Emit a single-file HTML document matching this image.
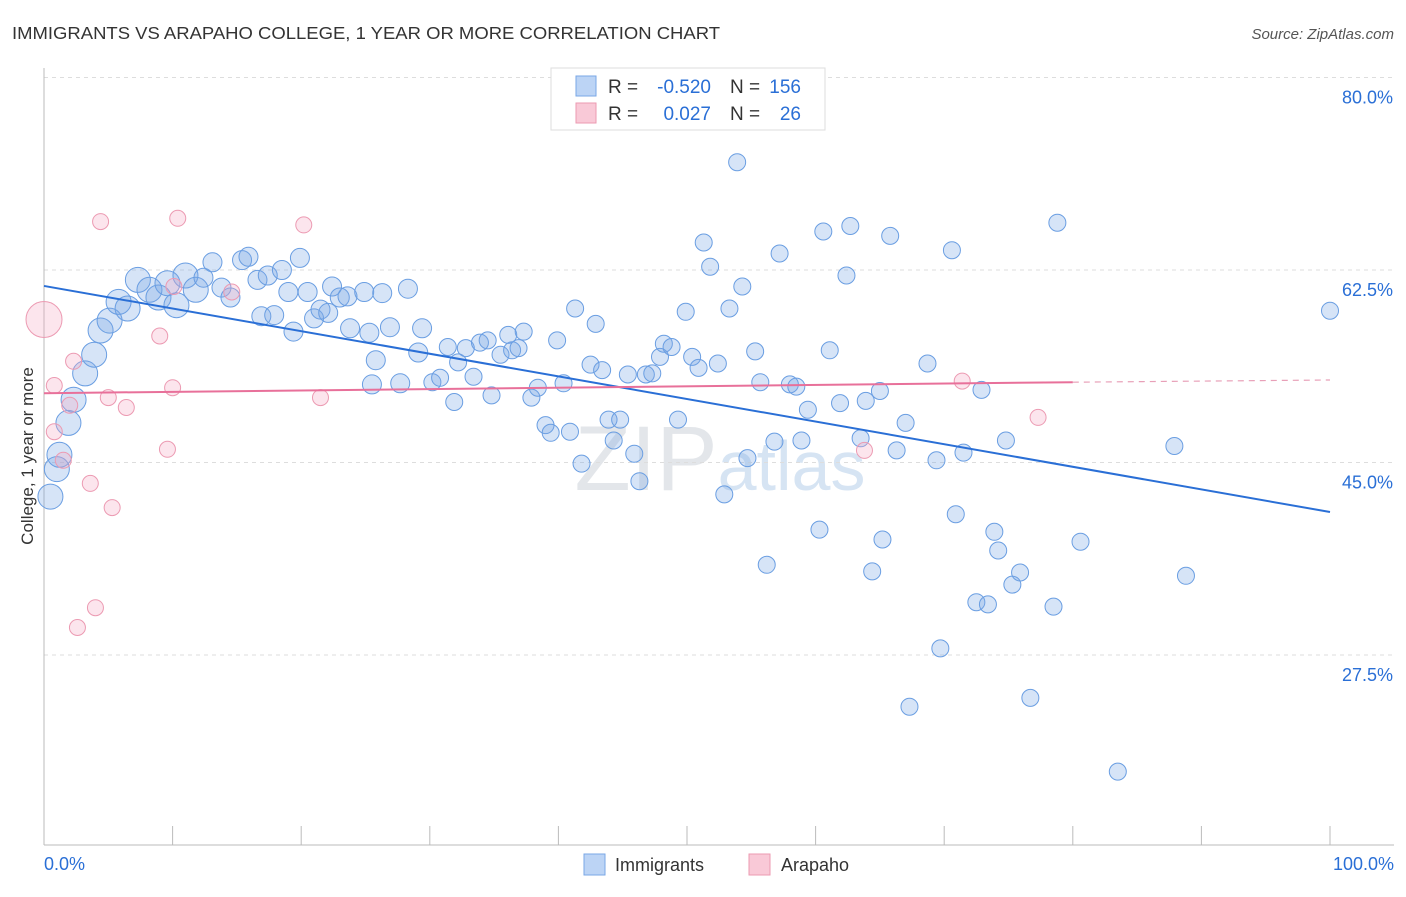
<!DOCTYPE html>
<html><head><meta charset="utf-8"><style>
body{margin:0;background:#fff;font-family:"Liberation Sans",sans-serif}
svg text{font-family:"Liberation Sans",sans-serif}
</style></head><body>
<svg id="c" width="1406" height="892" xmlns="http://www.w3.org/2000/svg">
<text x="12" y="39" font-size="17.5" fill="#333" textLength="708" lengthAdjust="spacingAndGlyphs">IMMIGRANTS VS ARAPAHO COLLEGE, 1 YEAR OR MORE CORRELATION CHART</text>
<text x="1394" y="39" font-size="15" fill="#555" text-anchor="end" font-style="italic">Source: ZipAtlas.com</text>
<text x="720" y="490" font-size="92" fill="#e3e6ea" text-anchor="middle" font-family="Liberation Serif"><tspan>ZIP</tspan><tspan fill="#d6e4f3" font-family="Liberation Sans" font-size="70">atlas</tspan></text>
<g id="grid"></g><g id="axes"></g><g id="pts"></g><g id="trend"></g>
<text transform="translate(33,456) rotate(-90)" font-size="17" fill="#333" text-anchor="middle">College, 1 year or more</text>
<g font-size="19" fill="#333">
<rect x="551" y="68" width="274" height="62" fill="#fff" stroke="#ddd"/>
<rect x="576" y="76" width="20" height="20" fill="#bcd4f5" stroke="#7aa7e6"/>
<rect x="576" y="103" width="20" height="20" fill="#f9c9d7" stroke="#ec9ab2"/>
<text x="608" y="93">R =</text><text x="711" y="93" text-anchor="end" fill="#2a6fd6">-0.520</text>
<text x="730" y="93">N =</text><text x="801" y="93" text-anchor="end" fill="#2a6fd6">156</text>
<text x="608" y="120">R =</text><text x="711" y="120" text-anchor="end" fill="#2a6fd6">0.027</text>
<text x="730" y="120">N =</text><text x="801" y="120" text-anchor="end" fill="#2a6fd6">26</text>
</g>
<g>
<rect x="584" y="854" width="21" height="21" fill="#bcd4f5" stroke="#7aa7e6"/>
<text x="615" y="871" font-size="18" fill="#333">Immigrants</text>
<rect x="749" y="854" width="21" height="21" fill="#f9c9d7" stroke="#ec9ab2"/>
<text x="781" y="871" font-size="18" fill="#333">Arapaho</text>
</g>
</svg>
<script>
const yTicks=[80,62.5,45,27.5];
const yTickLabels=["80.0%","62.5%","45.0%","27.5%"];
const xTickLabels=["0.0%","100.0%"];
const blueX=[0.5,1.0,1.2,1.9,2.3,3.2,3.9,4.4,5.1,5.8,6.5,7.3,8.2,8.9,9.6,10.3,11.0,11.8,12.4,13.1,13.8,14.5,15.4,15.9,16.6,17.4,18.5,16.9,17.9,19.4,19.9,19.0,20.5,21.0,21.5,22.1,22.4,23.0,23.6,24.9,26.3,23.8,25.3,25.8,26.9,28.3,25.5,27.7,29.1,29.4,30.2,30.8,31.4,31.9,32.2,32.8,33.4,33.9,34.5,34.8,35.5,36.1,36.4,36.9,37.3,37.9,38.4,39.0,39.4,39.9,40.4,40.9,41.3,41.8,42.5,42.9,43.4,43.9,44.3,44.8,45.4,45.9,46.3,46.8,47.3,47.9,48.2,48.8,49.3,49.9,50.4,50.9,51.3,51.8,52.4,52.9,53.3,53.9,54.3,54.7,55.3,55.7,56.2,56.8,57.2,58.0,58.5,58.9,59.4,60.3,60.6,61.1,61.9,62.4,62.7,63.5,63.9,64.4,65.0,65.2,65.8,66.3,67.0,67.3,68.7,69.4,69.7,70.6,70.9,71.5,72.5,72.9,73.4,73.9,74.2,74.8,75.3,75.9,76.7,78.5,78.8,80.6,83.5,87.9,88.8,100];
const blueY=[41.9,44.4,45.7,48.6,50.7,53.1,54.8,57.0,57.9,59.6,59.0,61.6,60.7,60.0,61.3,59.3,62.0,60.7,61.8,63.2,60.9,60.0,63.4,63.7,61.6,62.0,62.5,58.3,58.4,56.9,63.6,60.5,60.5,58.1,58.9,58.6,61.0,60.0,60.1,60.5,60.4,57.2,56.8,54.3,57.3,60.8,52.1,52.2,55.0,57.2,52.3,52.7,55.5,50.5,54.1,55.4,52.8,55.9,56.1,51.1,54.8,56.6,55.2,55.4,56.9,50.9,51.8,48.4,47.7,56.1,52.2,47.8,59.0,44.9,53.9,57.6,53.4,48.9,47.0,48.9,53.0,45.8,43.3,53.0,53.1,54.6,55.8,55.5,48.9,58.7,54.6,53.6,65.0,62.8,54.0,42.1,59.0,72.3,61.0,45.4,55.1,52.3,35.7,46.9,64.0,52.1,51.9,47.0,49.8,38.9,66.0,55.2,50.4,62.0,66.5,47.2,50.6,35.1,51.5,38.0,65.6,46.1,48.6,22.8,54.0,45.2,28.1,64.3,40.3,45.9,32.3,51.6,32.1,38.7,37.0,47.0,33.9,35.0,23.6,31.9,66.8,37.8,16.9,46.5,34.7,58.8];
const pinkX=[0,0.8,0.8,1.5,2.0,2.3,3.6,4.4,5.0,5.3,4.0,2.6,6.4,9.0,9.6,10.0,10.4,10.1,14.6,20.2,21.5,63.8,71.4,77.3];
const pinkY=[58.0,52.0,47.8,45.2,50.2,54.2,43.1,66.9,50.9,40.9,31.8,30.0,50.0,56.5,46.2,51.8,67.2,61.0,60.5,66.6,50.9,46.1,52.4,49.1];
const blueTrend=[61.05,40.5];
const pinkTrend=[51.3,52.3,52.5];
const NS="http://www.w3.org/2000/svg";
const X=v=>44+v*12.86, Y=v=>77.5+(80-v)*11;
function mk(t,a,p){const e=document.createElementNS(NS,t);for(const k in a)e.setAttribute(k,a[k]);document.getElementById(p).appendChild(e);return e;}
yTicks.forEach((t,i)=>{
 const l=mk('line',{x1:44,x2:1394,y1:Y(t),y2:Y(t),stroke:'#ddd','stroke-dasharray':'4,4'},'grid');
 
 
 const tx=mk('text',{x:1393,y:Y(t)+26,'font-size':18,fill:'#2a6fd6','text-anchor':'end'},'axes');
 
 
 tx.textContent=yTickLabels[i];
});
mk('line',{x1:44,x2:44,y1:68,y2:845,stroke:'#bbb'},'axes');
mk('line',{x1:44,x2:1394,y1:845,y2:845,stroke:'#bbb'},'axes');
for(let i=0;i<=10;i++){mk('line',{x1:X(i*10),x2:X(i*10),y1:826,y2:845,stroke:'#bbb'},'axes');}
[[0,'start',44],[1,'end',1394]].forEach(([i,a,x])=>{
 const t=mk('text',{x:x,y:870,'font-size':18,fill:'#2a6fd6','text-anchor':a},'axes');
 
 
 t.textContent=xTickLabels[i];
});
blueX.forEach((x,i)=>{
 const c=mk('circle',{cx:X(x),cy:Y(blueY[i]),r:x<12?12.5:(x<30?9.5:8.5),fill:'rgba(120,165,230,0.3)',stroke:'#6a9ee2','stroke-width':1},'pts');
 
 
});
pinkX.forEach((x,i)=>{
 const c=mk('circle',{cx:X(x),cy:Y(pinkY[i]),r:i==0?18:8,fill:'rgba(245,170,195,0.3)',stroke:'#ec9ab2','stroke-width':1},'pts');
 
 
});
let l=mk('line',{x1:X(0),y1:Y(blueTrend[0]),x2:X(100),y2:Y(blueTrend[1]),stroke:'#2a6fd6','stroke-width':2},'trend');


l=mk('line',{x1:X(0),y1:Y(pinkTrend[0]),x2:X(80),y2:Y(pinkTrend[1]),stroke:'#e8709a','stroke-width':2},'trend');


l=mk('line',{x1:X(80),y1:Y(pinkTrend[1]),x2:X(100),y2:Y(pinkTrend[2]),stroke:'#e8a0b8','stroke-width':1.2,'stroke-dasharray':'6,5'},'trend');


</script>
</body></html>
